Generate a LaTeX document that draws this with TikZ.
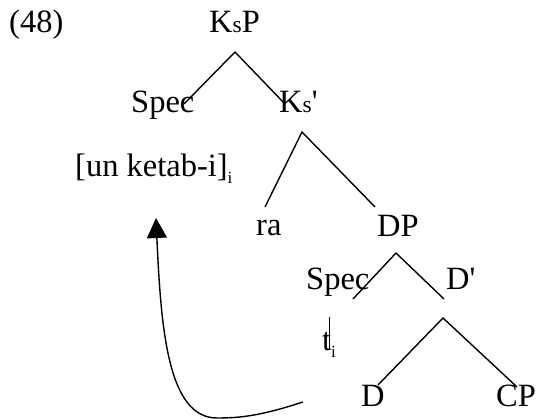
\documentclass[tikz,border=0pt]{standalone}
\usepackage{fontspec}
\setmainfont{Liberation Serif}
\usetikzlibrary{arrows.meta}

\newcommand{\smallS}{{\fontsize{23.5}{24}\selectfont s}}
\newcommand{\idx}{\raisebox{-7pt}{\fontsize{17}{17}\selectfont i}}

\begin{document}
\begin{tikzpicture}[x=1pt, y=-1pt,
    treeLabelStyle/.style={anchor=base west, inner sep=0pt, font=\fontsize{32.5}{38}\selectfont},
    treeEdgeStyle/.style={line width=1.4pt},
    moveArrowStyle/.style={line width=1.4pt, -{Triangle[length=20pt, width=20pt]}}]
    \useasboundingbox (0,0) rectangle (536,419);

    % Labels of the tree
    \node[treeLabelStyle] (exNum) at (9, 33) {(48)};
    \node[treeLabelStyle] (ksP) at (209, 33) {K\smallS P};
    \node[treeLabelStyle] (specA) at (131, 113) {Spec};
    \node[treeLabelStyle] (ksBar) at (279, 113) {K\smallS\textquotesingle};
    \node[treeLabelStyle] (moved) at (75, 177) {[un ketab-i]\idx};
    \node[treeLabelStyle] (ra) at (256, 236) {ra};
    \node[treeLabelStyle] (dP) at (377, 237) {DP};
    \node[treeLabelStyle] (specB) at (306, 290) {Spec};
    \node[treeLabelStyle] (dBar) at (446, 290) {D\textquotesingle};
    \node[treeLabelStyle] (trace) at (322, 351) {t\idx};
    \node[treeLabelStyle] (dHead) at (361, 407) {D};
    \node[treeLabelStyle] (cP) at (496, 407) {CP};

    % Branch points
    \coordinate (ksPTop) at (235, 52);
    \coordinate (ksPLeft) at (184, 104);
    \coordinate (ksPRight) at (285, 104);
    \coordinate (ksBarTop) at (302, 132);
    \coordinate (ksBarLeft) at (265, 207);
    \coordinate (ksBarRight) at (375, 207);
    \coordinate (dPTop) at (396, 253);
    \coordinate (dPLeft) at (353, 299);
    \coordinate (dPRight) at (444, 299);
    \coordinate (dBarTop) at (443, 318);
    \coordinate (dBarLeft) at (378, 385);
    \coordinate (dBarRight) at (517, 387);
    \coordinate (traceTop) at (329, 317);
    \coordinate (traceBot) at (329, 350);
    \coordinate (moveStart) at (303, 402);
    \coordinate (moveLow) at (217, 418);
    \coordinate (moveEnd) at (156, 218);

    \draw[treeEdgeStyle] (ksPLeft) -- (ksPTop) -- (ksPRight);
    \draw[treeEdgeStyle] (ksBarLeft) -- (ksBarTop) -- (ksBarRight);
    \draw[treeEdgeStyle] (dPLeft) -- (dPTop) -- (dPRight);
    \draw[treeEdgeStyle] (dBarLeft) -- (dBarTop) -- (dBarRight);
    \draw[line width=0.9pt] (traceTop) -- (traceBot);

    % Movement of the object to Spec,KsP
    \draw[moveArrowStyle] (moveStart) .. controls (260, 416) and (240, 418) .. (moveLow)
        .. controls (168, 418) and (161, 330) .. (moveEnd);
\end{tikzpicture}
\end{document}
